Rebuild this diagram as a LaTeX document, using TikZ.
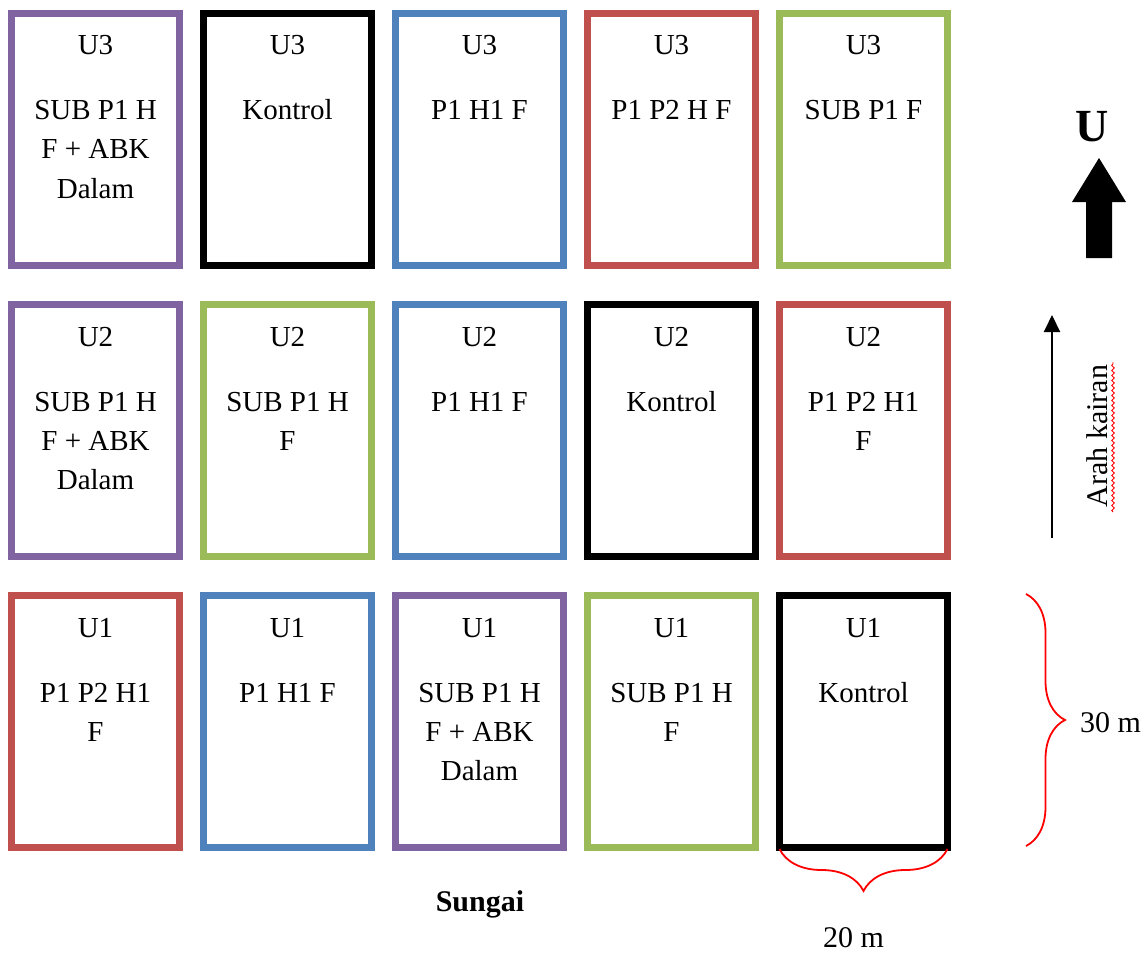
\documentclass[tikz,border=0pt]{standalone}
\usepackage{fontspec}
\setmainfont{Liberation Serif}
\usetikzlibrary{decorations.pathreplacing,decorations.pathmorphing,arrows.meta}
\definecolor{cpur}{HTML}{8064A2}
\definecolor{cblu}{HTML}{4F81BD}
\definecolor{cred}{HTML}{C0504D}
\definecolor{cgrn}{HTML}{9BBB59}
\tikzset{
 plotbox/.style={draw=#1, line width=7pt, fill=white, minimum width=168pt, minimum height=251.5pt, anchor=north west, inner sep=0pt, outer sep=0pt},
 plottext/.style={anchor=base, inner sep=0pt, font=\fontsize{29}{35}\selectfont},
 plaintext/.style={inner sep=0pt, font=\fontsize{30}{36}\selectfont},
 whitebox/.style={fill=white, draw=none, inner sep=0pt, anchor=north west},
 redbrace/.style={draw=red, line width=1.8pt, decorate, decoration={brace, amplitude=#1}},
}
\newcommand{\plotcell}[6]{%
 \pgfmathsetmacro{\px}{11.5+192*#2}%
 \pgfmathsetmacro{\py}{13.5+291*#3}%
 \node[plotbox=#4] (#1) at (\px,\py) {};
 \node[plottext] (#1-u) at ([yshift=-41.5pt]#1.north) {#5};
 \foreach \lineTxt [count=\k from 0] in {#6} {
   \node[plottext] (#1-\k) at ([yshift={-106.5-39*\k}]#1.north) {\lineTxt};
 }
}
\begin{document}
\begin{tikzpicture}[x=1pt,y=-1pt]
\useasboundingbox (0,0) rectangle (1146,955);
\fill[white] (0,0) rectangle (1146,955);
% row U3
\plotcell{a1}{0}{0}{cpur}{U3}{SUB P1 H,F + ABK,Dalam}
\plotcell{a2}{1}{0}{black}{U3}{Kontrol}
\plotcell{a3}{2}{0}{cblu}{U3}{P1 H1 F}
\plotcell{a4}{3}{0}{cred}{U3}{P1 P2 H F}
\plotcell{a5}{4}{0}{cgrn}{U3}{SUB P1 F}
% row U2
\plotcell{b1}{0}{1}{cpur}{U2}{SUB P1 H,F + ABK,Dalam}
\plotcell{b2}{1}{1}{cgrn}{U2}{SUB P1 H,F}
\plotcell{b3}{2}{1}{cblu}{U2}{P1 H1 F}
\plotcell{b4}{3}{1}{black}{U2}{Kontrol}
\plotcell{b5}{4}{1}{cred}{U2}{P1 P2 H1,F}
% row U1
\plotcell{c1}{0}{2}{cred}{U1}{P1 P2 H1,F}
\plotcell{c2}{1}{2}{cblu}{U1}{P1 H1 F}
\plotcell{c3}{2}{2}{cpur}{U1}{SUB P1 H,F + ABK,Dalam}
\plotcell{c4}{3}{2}{cgrn}{U1}{SUB P1 H,F}
\plotcell{c5}{4}{2}{black}{U1}{Kontrol}

% north arrow
\node[inner sep=0pt, anchor=base, font=\fontsize{46}{50}\selectfont\bfseries] (north) at (1092,142) {U};
\fill[black] (1086,258) -- (1086,202) -- (1072,202) -- (1099,158) -- (1126,202) -- (1112,202) -- (1112,258) -- cycle;

% flow direction
\coordinate (fs) at (1052,538);
\coordinate (fe) at (1052,315);
\draw[line width=2pt, -{Triangle[length=17pt, width=16pt]}] (fs) -- (fe);
\node[fill=white, inner sep=0pt, minimum width=186pt, minimum height=67pt, rotate=90] (flowbox) at (1096.5,435) {};
\node[plaintext, rotate=90] (flowtxt) at (1097,436) {Arah kairan};
\draw[red, line width=0.9pt, decorate, decoration={snake, segment length=5pt, amplitude=1.3pt}] (1113,512) -- (1113,362);

% dimensions
\node[whitebox, minimum width=88pt, minimum height=91pt] (box30) at (1058,693) {};
\coordinate (b30a) at (1026,594);
\coordinate (b30b) at (1026,846);
\draw[redbrace=39pt] (b30a) -- (b30b);
\node[plaintext, anchor=base west] (t30) at (1080,732) {30 m};

\draw[redbrace=42pt] ([yshift=-2pt]c5.south east) -- ([yshift=-2pt]c5.south west);
\node[whitebox, minimum width=125pt, minimum height=47pt] (box20) at (801,908) {};
\node[plaintext, anchor=base west] (t20) at (823,947) {20 m};

\node[plaintext, anchor=base, font=\fontsize{30}{36}\selectfont\bfseries] (river) at (480,911) {Sungai};
\end{tikzpicture}
\end{document}
